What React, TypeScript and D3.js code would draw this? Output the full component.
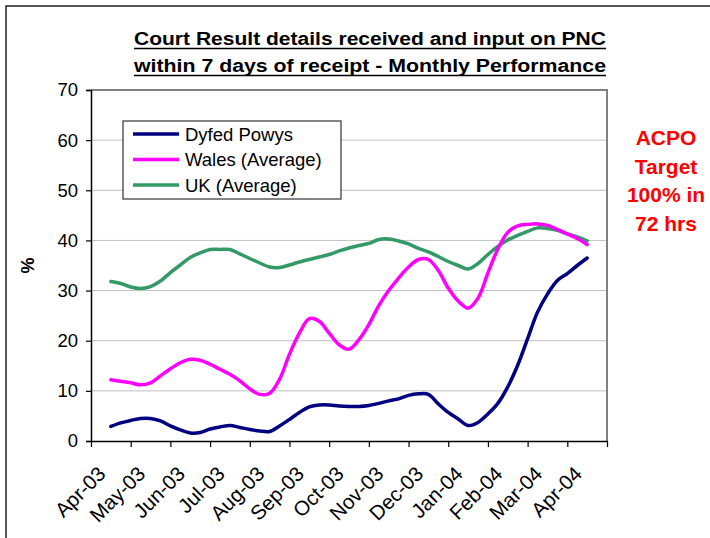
import React, { useEffect, useRef } from "react";
import * as d3 from "d3";

const months = [
  "Apr-03", "May-03", "Jun-03", "Jul-03", "Aug-03", "Sep-03", "Oct-03",
  "Nov-03", "Dec-03", "Jan-04", "Feb-04", "Mar-04", "Apr-04",
];

// weekly readings (4 per month), starting mid Apr-03
const dyfedPowys = [
  2.9, 3.6, 4.1, 4.5, 4.5, 4.0, 3.0, 2.2, 1.6, 1.7, 2.4, 2.8, 3.1, 2.7, 2.3, 2.0,
  1.9, 3.0, 4.3, 5.7, 6.8, 7.2, 7.2, 7.0, 6.9, 6.9, 7.1, 7.5, 8.0, 8.4, 9.1, 9.4,
  9.3, 7.4, 5.7, 4.4, 3.1, 3.7, 5.4, 7.5, 10.8, 15.1, 20.4, 25.7, 29.3, 32.0, 33.4, 35.0,
  36.5,
];
const walesAvg = [
  12.2, 11.9, 11.6, 11.2, 11.6, 13.0, 14.4, 15.6, 16.3, 16.1, 15.3, 14.3, 13.3, 12.0, 10.4, 9.3,
  9.5, 12.3, 17.3, 21.5, 24.4, 23.9, 21.5, 19.2, 18.3, 20.2, 23.2, 27.0, 30.0, 32.5, 34.7, 36.2,
  36.2, 34.0, 30.5, 27.9, 26.5, 28.5, 33.5, 38.3, 41.6, 42.9, 43.2, 43.3, 43.0, 42.2, 41.3, 40.4,
  39.2,
];
const ukAvg = [
  31.8, 31.4, 30.7, 30.4, 30.8, 31.9, 33.6, 35.1, 36.6, 37.5, 38.2, 38.2, 38.2, 37.3, 36.4, 35.5,
  34.7, 34.6, 35.1, 35.7, 36.2, 36.7, 37.2, 37.9, 38.5, 39.0, 39.4, 40.2, 40.3, 39.9, 39.3, 38.4,
  37.7, 36.8, 35.8, 35.0, 34.3, 35.4, 37.2, 38.8, 40.1, 41.0, 41.8, 42.5, 42.4, 42.0, 41.3, 40.7,
  39.9,
];
const yTicks = [0, 10, 20, 30, 40, 50, 60, 70];

const series = [
  { name: "Dyfed Powys", values: dyfedPowys, color: "#000080" },
  { name: "Wales (Average)", values: walesAvg, color: "#FF00FF" },
  { name: "UK (Average)", values: ukAvg, color: "#339966" },
];

const titleLines = [
  "Court Result details received and input on PNC",
  "within 7 days of receipt - Monthly Performance",
];
const noteLines = ["ACPO", "Target", "100% in", "72 hrs"];

const width = 710;
const height = 538;
const margin = { top: 90, right: 103, bottom: 97, left: 91 };
const font = "Arial, 'Liberation Sans', sans-serif";

const App = () => {
  const ref = useRef<SVGSVGElement>(null);

  useEffect(() => {
    const svg = d3.select(ref.current);
    svg.selectAll("*").remove();

    const x = d3
      .scaleLinear()
      .domain([-0.5, months.length - 0.5])
      .range([margin.left, width - margin.right]);
    const y = d3
      .scaleLinear()
      .domain([0, 70])
      .range([height - margin.bottom, margin.top]);

    // outer frame
    svg
      .append("rect")
      .attr("x", 6)
      .attr("y", 6)
      .attr("width", width + 20)
      .attr("height", height + 20)
      .attr("fill", "white")
      .attr("stroke", "#222")
      .attr("stroke-width", 1.5);

    // title
    titleLines.forEach((t, i) => {
      svg
        .append("text")
        .attr("x", 370)
        .attr("y", 45 + i * 27)
        .attr("text-anchor", "middle")
        .attr("font-family", font)
        .attr("font-weight", "bold")
        .attr("font-size", 17.5)
        .attr("textLength", 472)
        .attr("lengthAdjust", "spacingAndGlyphs")
        .text(t);
      svg
        .append("line")
        .attr("x1", 134)
        .attr("x2", 606)
        .attr("y1", 48.5 + i * 27)
        .attr("y2", 48.5 + i * 27)
        .attr("stroke", "black")
        .attr("stroke-width", 1.6);
    });

    // gridlines
    svg
      .append("g")
      .selectAll("line")
      .data(yTicks.filter((d) => d > 0))
      .join("line")
      .attr("x1", margin.left)
      .attr("x2", width - margin.right)
      .attr("y1", (d) => y(d))
      .attr("y2", (d) => y(d))
      .attr("stroke", "#C0C0C0")
      .attr("stroke-width", 1);

    // plot border (top / right)
    svg
      .append("path")
      .attr(
        "d",
        `M${margin.left},${margin.top}H${width - margin.right}V${height - margin.bottom}`
      )
      .attr("fill", "none")
      .attr("stroke", "#808080")
      .attr("stroke-width", 2);

    // y axis
    const yAxis = svg
      .append("g")
      .attr("transform", `translate(${margin.left},0)`)
      .call(d3.axisLeft(y).tickValues(yTicks).tickSize(5).tickPadding(8));
    yAxis.select(".domain").attr("stroke", "black").attr("stroke-width", 1.5);
    yAxis.selectAll(".tick line").attr("stroke", "black").attr("stroke-width", 1.2);
    yAxis
      .selectAll("text")
      .attr("font-family", font)
      .attr("font-size", 18.5)
      .attr("fill", "black");

    // x axis: ticks between months
    const xAxis = svg
      .append("g")
      .attr("transform", `translate(0,${height - margin.bottom})`)
      .call(
        d3
          .axisBottom(x)
          .tickValues(d3.range(months.length + 1).map((i) => i - 0.5))
          .tickSize(6)
          .tickSizeOuter(0)
          .tickFormat(() => "")
      );
    xAxis.select(".domain").attr("stroke", "black").attr("stroke-width", 1.5);
    xAxis.selectAll(".tick line").attr("stroke", "black").attr("stroke-width", 1.2);

    svg
      .append("g")
      .selectAll("text")
      .data(months)
      .join("text")
      .attr(
        "transform",
        (_, i) => `translate(${x(i) - 9},${height - margin.bottom + 29}) rotate(-45)`
      )
      .attr("text-anchor", "end")
      .attr("dy", "0.35em")
      .attr("font-family", font)
      .attr("font-size", 20.5)
      .text((d) => d);

    // y label
    svg
      .append("text")
      .attr("transform", `translate(34,${(margin.top + height - margin.bottom) / 2}) rotate(-90)`)
      .attr("text-anchor", "middle")
      .attr("font-family", font)
      .attr("font-weight", "bold")
      .attr("font-size", 18)
      .text("%");

    // lines
    const line = d3
      .line<number>()
      .x((_, i) => x(i / 4))
      .y((d) => y(d))
      .curve(d3.curveCatmullRom.alpha(0.5));

    svg
      .append("g")
      .selectAll("path")
      .data([series[2], series[1], series[0]])
      .join("path")
      .attr("d", (s) => line(s.values))
      .attr("fill", "none")
      .attr("stroke", (s) => s.color)
      .attr("stroke-width", 3.5)
      .attr("stroke-linejoin", "round")
      .attr("stroke-linecap", "round");

    // legend
    const lg = svg.append("g").attr("transform", "translate(123,121)");
    lg.append("rect")
      .attr("width", 218)
      .attr("height", 78)
      .attr("fill", "white")
      .attr("stroke", "#333")
      .attr("stroke-width", 1.2);
    series.forEach((s, i) => {
      lg.append("line")
        .attr("x1", 10)
        .attr("x2", 56)
        .attr("y1", 13 + i * 25.5)
        .attr("y2", 13 + i * 25.5)
        .attr("stroke", s.color)
        .attr("stroke-width", 3.5);
      lg.append("text")
        .attr("x", 62)
        .attr("y", 13 + i * 25.5)
        .attr("dy", "0.36em")
        .attr("font-family", font)
        .attr("font-size", 18.5)
        .text(s.name);
    });

    // note
    noteLines.forEach((t, i) => {
      svg
        .append("text")
        .attr("x", 666)
        .attr("y", 145 + i * 28.5)
        .attr("text-anchor", "middle")
        .attr("font-family", font)
        .attr("font-weight", "bold")
        .attr("font-size", 21)
        .attr("fill", "#FF0000")
        .text(t);
    });
  }, []);

  return (
    <svg
      ref={ref}
      width={width}
      height={height}
      style={{ position: "absolute", left: 0, top: 0, display: "block" }}
    />
  );
};

export default App;
